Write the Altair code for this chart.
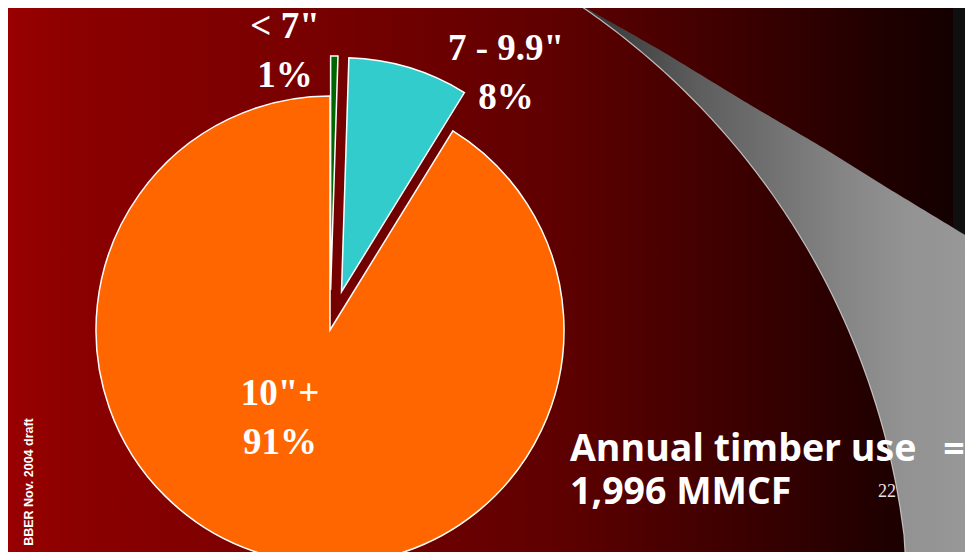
import altair as alt
import numpy as np
import pandas as pd

# ---------------- data ----------------
categories = ['< 7"', '7 - 9.9"', '10"+']
shares = [0.5, 8.3, 91.2]          # percent of annual timber use
pct_labels = ['1%', '8%', '91%']
slice_colors = ['#006600', '#33cccc', '#ff6600']

title_line1 = "Annual timber use"
title_eq = "="
title_line2 = "1,996 MMCF"
slide_no = "22"
side_note = "BBER Nov. 2004 draft"

# ---------------- layout (pixels) ----------------
W, H = 957, 544
OFF = 8                       # page margin: reference pixel -> chart pixel
PIE_CX, PIE_CY = 330 - OFF, 330 - OFF
PIE_R = 234
EXPLODE = 40
# centre of first text line of each label
label_pos = {'< 7"': (277, 19), '7 - 9.9"': (498, 41), '10"+': (272, 386)}

pie_df = pd.DataFrame({
    "cat": categories,
    "share": shares,
    "pct": pct_labels,
    "order": list(range(len(categories))),
})

# ---------------- background ----------------
bg_df = pd.DataFrame([{"k": 0}])
bg_grad = alt.Gradient(
    gradient="linear", x1=0, x2=1, y1=0, y2=0,
    stops=[
        alt.GradientStop(color="#990000", offset=0.0),
        alt.GradientStop(color="#8b0000", offset=0.076),
        alt.GradientStop(color="#760000", offset=0.341),
        alt.GradientStop(color="#600000", offset=0.574),
        alt.GradientStop(color="#3a0000", offset=0.785),
        alt.GradientStop(color="#200000", offset=0.926),
        alt.GradientStop(color="#140000", offset=1.0),
    ],
)
background = alt.Chart(bg_df).mark_rect(fill=bg_grad).encode(
    x=alt.value(0), x2=alt.value(945), y=alt.value(0), y2=alt.value(H)
)
strip = alt.Chart(bg_df).mark_rect(fill="#0f0f0f").encode(
    x=alt.value(945), x2=alt.value(W), y=alt.value(0), y2=alt.value(H)
)

# page-curl decoration (reference pixel geometry)
cx_ref = np.arange(572, 986, 4).astype(float)
circ_a, circ_b, circ_R = 159.0, 627.1, 750.7
rpts_x = [572, 660, 747, 827, 886, 975, 990]
rpts_y = [0, 50, 103, 150, 187, 241, 250]
y_top = np.interp(cx_ref, rpts_x, rpts_y)
under = np.clip(circ_R ** 2 - (cx_ref - circ_a) ** 2, 0, None)
y_bot = np.where(cx_ref <= 906, circ_b - np.sqrt(under), 600)
y_bot = np.maximum(y_bot, y_top)
curl_df = pd.DataFrame({
    "x": cx_ref - OFF,
    "yt": y_top - OFF,
    "yb": y_bot - OFF,
})
edge_df = curl_df[cx_ref <= 908]
curl_grad = alt.Gradient(
    gradient="linear", x1=0, y1=0, x2=1, y2=0,
    stops=[
        alt.GradientStop(color="#303030", offset=0.0),
        alt.GradientStop(color="#4c4c4c", offset=0.19),
        alt.GradientStop(color="#5e5e5e", offset=0.31),
        alt.GradientStop(color="#6c6c6c", offset=0.44),
        alt.GradientStop(color="#7a7a7a", offset=0.56),
        alt.GradientStop(color="#878787", offset=0.68),
        alt.GradientStop(color="#929292", offset=0.80),
        alt.GradientStop(color="#999999", offset=1.0),
    ],
)
curl = alt.Chart(curl_df).mark_area(fill=curl_grad, interpolate="linear").encode(
    x=alt.X("x:Q", scale=None, axis=None),
    y=alt.Y("yt:Q", scale=None, axis=None, stack=False),
    y2="yb:Q",
)
curl_edge = alt.Chart(edge_df).mark_line(stroke="#d4d4d4", strokeWidth=1.2, opacity=0.85).encode(
    x=alt.X("x:Q", scale=None, axis=None),
    y=alt.Y("yb:Q", scale=None, axis=None),
    order=alt.Order("x:Q"),
)

# ---------------- pie ----------------
pie = (
    alt.Chart(pie_df)
    .transform_joinaggregate(total="sum(share)")
    .transform_window(cum="sum(share)", sort=[alt.SortField("order")], frame=[None, 0])
    .transform_calculate(
        t1="datum.cum / datum.total * 2 * PI",
        t0="(datum.cum - datum.share) / datum.total * 2 * PI",
    )
    .transform_calculate(
        mid="(datum.t0 + datum.t1) / 2",
        ex=f"datum.order < 2 ? {EXPLODE} : 0",
    )
    .transform_calculate(
        cx=f"{PIE_CX} + datum.ex * sin(datum.mid)",
        cy=f"{PIE_CY} - datum.ex * cos(datum.mid)",
    )
    .mark_arc(radius=PIE_R, stroke="white", strokeWidth=1.5)
    .encode(
        x=alt.X("cx:Q", scale=None, axis=None),
        y=alt.Y("cy:Q", scale=None, axis=None),
        theta=alt.Theta("t0:Q", scale=None, stack=False),
        theta2="t1:Q",
        color=alt.Color("cat:N", scale=alt.Scale(domain=categories, range=slice_colors), legend=None),
    )
)

lab_df = pie_df.copy()
lab_df["text"] = lab_df["cat"] + "\n" + lab_df["pct"]
lab_df["lx"] = [label_pos[c][0] for c in lab_df["cat"]]
lab_df["ly"] = [label_pos[c][1] for c in lab_df["cat"]]
labels = alt.Chart(lab_df).mark_text(
    font="Liberation Serif", fontWeight="bold", fontSize=37, color="white",
    align="center", baseline="middle", lineBreak="\n", lineHeight=49,
).encode(
    x=alt.X("lx:Q", scale=None, axis=None),
    y=alt.Y("ly:Q", scale=None, axis=None),
    text="text:N",
)

# ---------------- texts ----------------
def txt(s, x, y, **kw):
    return alt.Chart(pd.DataFrame([{"t": s}])).mark_text(**kw).encode(
        x=alt.value(x), y=alt.value(y), text="t:N"
    )

t1 = txt(title_line1, 562, 442, font="Open Sans", fontWeight="bold", fontSize=37.5,
         color="white", align="left", baseline="middle")
teq = txt(title_eq, 946, 443, font="Open Sans", fontWeight="bold", fontSize=37.5,
          color="white", align="center", baseline="middle")
t2 = txt(title_line2, 562, 485, font="Open Sans", fontWeight="bold", fontSize=37.5,
         color="white", align="left", baseline="middle")
tno = txt(slide_no, 879, 484, font="Liberation Serif", fontSize=18,
          color="#e6e6e6", align="center", baseline="middle")
tside = txt(side_note, 21, 474, font="Liberation Sans", fontWeight="bold", fontSize=12.5,
            color="white", align="center", baseline="middle", angle=270)

chart = alt.layer(
    background, strip, curl, curl_edge, pie, labels, t1, teq, t2, tno, tside
).properties(
    width=W, height=H, padding=0, autosize=alt.AutoSizeParams(type="none"),
    background="#140000",
).configure_view(stroke=None)

chart.save("out.html", embed_options={"renderer": "svg", "actions": False})
